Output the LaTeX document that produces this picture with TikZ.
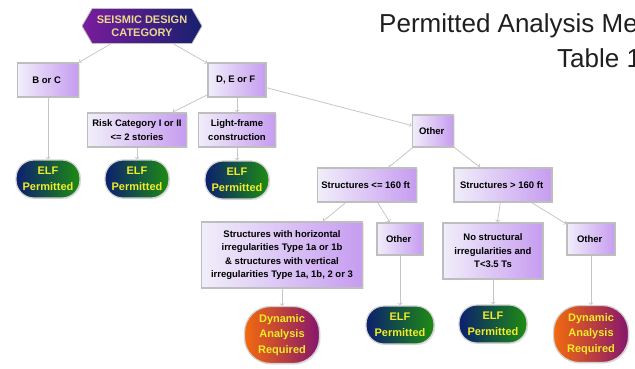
\documentclass[tikz,border=0pt]{standalone}
\usepackage{fontspec}
\setmainfont{Liberation Sans}
\usetikzlibrary{arrows,shapes,shadows}
\definecolor{boxleft}{HTML}{F1EEFA}
\definecolor{boxright}{HTML}{C69CF0}
\definecolor{boxline}{HTML}{BEBEBE}
\definecolor{linkgray}{HTML}{C6C6C6}
\definecolor{elfblue}{HTML}{0C1F70}
\definecolor{elfgreen}{HTML}{1E8C12}
\definecolor{dynorange}{HTML}{F26A0E}
\definecolor{dynpurple}{HTML}{86156E}
\definecolor{ovaltext}{HTML}{F0EC28}
\definecolor{hexpurple}{HTML}{7A1C9E}
\definecolor{hexnavy}{HTML}{16206E}
\definecolor{hextext}{HTML}{EAD98E}

\begin{document}
\begin{tikzpicture}[x=1pt, y=-1pt, font=\bfseries\fontsize{9.5}{13.5}\selectfont,
 every node/.style={align=center, inner sep=2pt},
 choice/.style={rectangle, draw=boxline, line width=1.5pt, left color=boxleft, right color=boxright, minimum height=34pt,
   drop shadow={opacity=0.18, shadow xshift=1.2pt, shadow yshift=-1.2pt}},
 outcome/.style={rectangle, draw=boxline!70, line width=1.2pt, rounded corners=18pt, minimum width=64pt, minimum height=38pt,
   text=ovaltext, font=\bfseries\fontsize{11}{15.5}\selectfont,
   drop shadow={opacity=0.18, shadow xshift=1.2pt, shadow yshift=-1.2pt}},
 elf/.style={outcome, left color=elfblue, right color=elfgreen},
 dyn/.style={outcome, left color=dynorange, right color=dynpurple, minimum width=75pt, minimum height=57pt, rounded corners=26pt},
 heading/.style={anchor=base west, inner sep=0pt, text=black!88, font=\fontsize{26}{30}\selectfont},
 flowline/.style={->, draw=linkgray, line width=0.8pt}]

 \useasboundingbox (0,0) rectangle (635,368);
 \clip (0,0) rectangle (635,368);

 \node[shape=signal, signal to=east and west, signal pointer angle=120, draw=boxline, line width=0.8pt,
   left color=hexpurple, right color=hexnavy, text=hextext, font=\bfseries\fontsize{11}{13}\selectfont,
   minimum width=120pt, minimum height=35pt, inner sep=1pt] (sdc) at (142,26) { SEISMIC DESIGN\\CATEGORY };

 \node[heading] (title) at (379,32) { Permitted Analysis Me };
 \node[heading] (table) at (557,67) { Table 1 };

 \node[choice, minimum width=61pt] (boc) at (48,80) { B or C };
 \node[choice, minimum width=58pt] (def) at (237,80) { D, E or F };
 \node[choice, minimum width=99pt] (risk) at (137,130) { Risk Category I or II\\<= 2 stories };
 \node[choice, minimum width=77pt] (light) at (237,130) { Light-frame\\construction };
 \node[choice, minimum width=41pt, minimum height=32pt] (oth1) at (433,131) { Other };

 \node[elf] (elf1) at (48,179) { ELF\\Permitted };
 \node[elf] (elf2) at (137,179) { ELF\\Permitted };
 \node[elf] (elf3) at (237,180) { ELF\\Permitted };

 \node[choice, minimum width=99pt] (low) at (367,185) { Structures <= 160 ft };
 \node[choice, minimum width=98pt] (tall) at (503,185) { Structures > 160 ft };

 \node[choice, minimum width=161pt, minimum height=66pt] (irr) at (282,255)
   { Structures with horizontal\\irregularities Type 1a or 1b\\\& structures with vertical\\irregularities Type 1a, 1b, 2 or 3 };
 \node[choice, minimum width=46pt, minimum height=32pt] (oth2) at (400,239) { Other };
 \node[choice, minimum width=100pt, minimum height=56pt] (nos) at (493,251) { No structural\\irregularities and\\T<3.5 Ts };
 \node[choice, minimum width=48pt, minimum height=32pt] (oth3) at (591,239) { Other };

 \node[dyn] (dyn1) at (282,335) { Dynamic\\Analysis\\Required };
 \node[elf, minimum width=68pt] (elf4) at (400,325) { ELF\\Permitted };
 \node[elf, minimum width=68pt] (elf5) at (493,324) { ELF\\Permitted };
 \node[dyn] (dyn2) at (591,334) { Dynamic\\Analysis\\Required };

 \foreach \a/\b in {sdc/boc, sdc/def, boc/elf1, def/risk, def/light, def/oth1, risk/elf2, light/elf3,
   oth1/low, oth1/tall, low/irr, low/oth2, tall/nos, tall/oth3, irr/dyn1, oth2/elf4, nos/elf5, oth3/dyn2}
   \draw[flowline] (\a) -- (\b);
\end{tikzpicture}
\end{document}
